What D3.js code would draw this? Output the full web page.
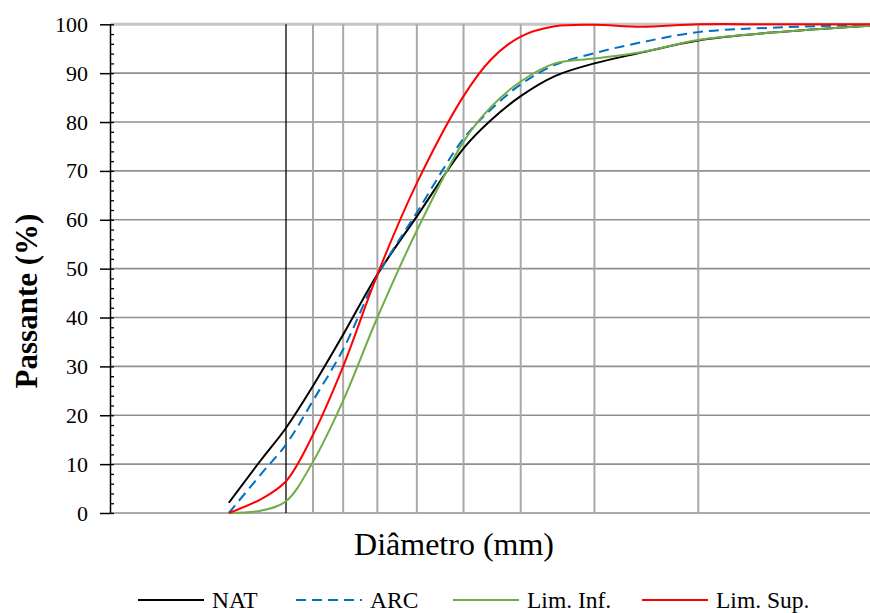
<!DOCTYPE html>
<html>
<head>
<meta charset="utf-8">
<script src="https://cdn.jsdelivr.net/npm/d3@7"></script>
<style>
  html, body { margin: 0; padding: 0; background: #fff; }
  svg { display: block; font-family: "Liberation Serif", "Times New Roman", serif; }
</style>
</head>
<body>
<svg id="chart" width="870" height="613"></svg>
<script>
// Grading curves: cumulative passing (%) against diameter (log axis, reversed)
const diameters = [12.5, 11, 10, 9, 8, 7, 6, 5, 4.5, 4, 3.5, 3, 2.5, 2, 1.5, 1.023];
const natPassing = [2.1, 11.0, 17.4, 26.0, 36.5, 48.8, 60.7, 74.6, 80.3, 85.3, 89.4, 92.0, 94.2, 96.7, 98.3, 99.7];
const arcPassing = [0, 8.1, 14.0, 23.0, 33.5, 48.5, 61.5, 76.6, 82.5, 87.7, 91.7, 94.1, 96.3, 98.4, 99.3, 99.9];
const infPassing = [0, 0.5, 2.4, 10.5, 23.0, 40.0, 57.8, 76.0, 83.0, 88.3, 92.0, 93.0, 94.3, 96.8, 98.3, 99.7];
const supPassing = [0, 2.9, 6.5, 16.0, 30.0, 48.8, 67.5, 85.3, 92.7, 97.5, 99.6, 99.9, 99.5, 100, 100, 100];

const seriesNames = ["NAT", "ARC", "Lim. Inf.", "Lim. Sup."];
const seriesColors = ["#000000", "#0070C0", "#70AD47", "#FF0000"];
const seriesDash = [null, "10,6", null, null];

const diameterRange = [19.84, 1.023];          // axis runs from large to small diameter
const majorGridDiameter = 10;
const minorGridDiameters = [9, 8, 7, 6, 5, 4, 3, 2];
const yMajorTicks = [0, 10, 20, 30, 40, 50, 60, 70, 80, 90, 100];
const yMinorTicks = d3.range(0, 101, 2);

const xTitle = "Diâmetro (mm)";
const yTitle = "Passante (%)";

const plot = { left: 110.5, right: 870, top: 24.3, bottom: 513 };
const legendItemX = [138, 296, 453, 642];
const serif = "'Liberation Serif', 'Times New Roman', serif";

const svg = d3.select("#chart");

const x = d3.scaleLog().domain(diameterRange).range([plot.left, plot.right]);
const y = d3.scaleLinear().domain([0, 100]).range([plot.bottom, plot.top]);

svg.append("defs").append("clipPath").attr("id", "plot-clip")
  .append("rect")
  .attr("x", plot.left).attr("y", plot.top - 3)
  .attr("width", plot.right - plot.left).attr("height", plot.bottom - plot.top + 6);

// horizontal gridlines
const grid = svg.append("g");
grid.selectAll("line.h")
  .data(yMajorTicks)
  .join("line")
  .attr("x1", plot.left).attr("x2", plot.right)
  .attr("y1", d => y(d)).attr("y2", d => y(d))
  .attr("stroke", d => d === 100 ? "#c4c4c4" : "#8f8f8f")
  .attr("stroke-width", d => d === 100 ? 3 : 1.6);

// vertical gridlines
grid.selectAll("line.v")
  .data(minorGridDiameters)
  .join("line")
  .attr("x1", d => x(d)).attr("x2", d => x(d))
  .attr("y1", plot.top).attr("y2", plot.bottom)
  .attr("stroke", "#a8a8a8")
  .attr("stroke-width", 2);

grid.append("line")
  .attr("x1", x(majorGridDiameter)).attr("x2", x(majorGridDiameter))
  .attr("y1", plot.top).attr("y2", plot.bottom)
  .attr("stroke", "#000")
  .attr("stroke-width", 1.3);

// y axis: labels and outer major ticks
const yAxis = svg.append("g")
  .attr("transform", `translate(${plot.left},0)`)
  .call(d3.axisLeft(y).tickValues(yMajorTicks).tickSize(10.5).tickPadding(12).tickFormat(d3.format("d")));
yAxis.attr("font-family", serif);
yAxis.select(".domain").attr("stroke", "#000").attr("stroke-width", 1.5)
  .attr("d", `M0,${plot.top}V${plot.bottom}`);
yAxis.selectAll(".tick line").attr("stroke", "#000").attr("stroke-width", 1.5);
yAxis.selectAll(".tick text")
  .attr("font-size", 22)
  .attr("fill", "#000")
  .attr("font-family", serif);

// inner minor ticks
const yMinor = svg.append("g")
  .attr("transform", `translate(${plot.left},0)`)
  .call(d3.axisRight(y).tickValues(yMinorTicks).tickSize(3.5).tickFormat(""));
yMinor.select(".domain").remove();
yMinor.selectAll(".tick line").attr("stroke", "#000").attr("stroke-width", 1.3);

// curves
const seriesValues = [natPassing, arcPassing, infPassing, supPassing];
const line = d3.line()
  .x(d => x(d[0]))
  .y(d => y(d[1]))
  .curve(d3.curveCatmullRom.alpha(0.5));

const curves = svg.append("g").attr("clip-path", "url(#plot-clip)");
seriesValues.forEach((vals, i) => {
  curves.append("path")
    .datum(diameters.map((dm, j) => [dm, vals[j]]))
    .attr("d", line)
    .attr("fill", "none")
    .attr("stroke", seriesColors[i])
    .attr("stroke-width", 2)
    .attr("stroke-dasharray", seriesDash[i]);
});

// axis titles
svg.append("text")
  .attr("x", 454).attr("y", 555)
  .attr("text-anchor", "middle")
  .attr("font-family", serif)
  .attr("font-size", 32)
  .attr("fill", "#000")
  .text(xTitle);

svg.append("text")
  .attr("transform", "translate(37,301) rotate(-90)")
  .attr("text-anchor", "middle")
  .attr("font-family", serif)
  .attr("font-size", 31)
  .attr("font-weight", "bold")
  .attr("fill", "#000")
  .text(yTitle);

// legend
const legend = svg.append("g").attr("transform", "translate(0,600)");
seriesNames.forEach((name, i) => {
  const item = legend.append("g").attr("transform", `translate(${legendItemX[i]},0)`);
  item.append("line")
    .attr("x1", 0).attr("x2", 66).attr("y1", 0).attr("y2", 0)
    .attr("stroke", seriesColors[i])
    .attr("stroke-width", 2)
    .attr("stroke-dasharray", seriesDash[i]);
  item.append("text")
    .attr("x", 74).attr("y", 8)
    .attr("font-family", serif)
    .attr("font-size", 23.5)
    .attr("fill", "#000")
    .text(name);
});
</script>
</body>
</html>
